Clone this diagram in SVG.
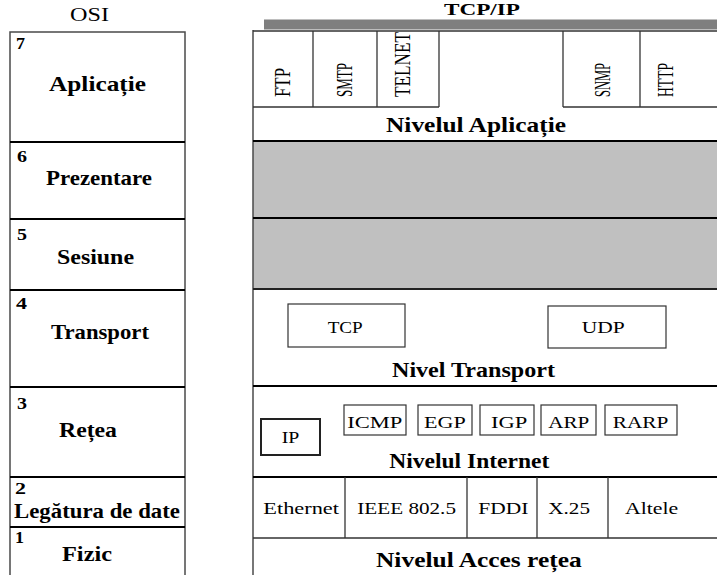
<svg xmlns="http://www.w3.org/2000/svg" width="717" height="575" viewBox="0 0 717 575" font-family="'Liberation Serif', 'DejaVu Serif', 'Times New Roman', serif">
<style>
text{fill:#000}
.t{font-size:18px}
.h{font-size:17px;font-weight:bold}
.n{font-size:17px;font-weight:bold}
.name{font-size:21px;font-weight:bold}
.p{font-size:17px}
.v{font-size:15px}
.frame{fill:none;stroke:#4a4a4a;stroke-width:1.5}
.sep{stroke:#000;stroke-width:2}
.thin{stroke:#333;stroke-width:1.3;fill:none}
.box{fill:#fff;stroke:#333;stroke-width:1.2}
</style>
<rect width="717" height="575" fill="#fff"/>

<g id="titles">
<text class="t" x="70" y="21" textLength="39" lengthAdjust="spacingAndGlyphs">OSI</text>
<text class="h" x="444" y="15" textLength="76" lengthAdjust="spacingAndGlyphs">TCP/IP</text>
</g>

<g id="osi">
<rect class="frame" x="10" y="32" width="175" height="560"/>
<line class="sep" x1="10" y1="142" x2="185" y2="142"/>
<line class="sep" x1="10" y1="219" x2="185" y2="219"/>
<line class="sep" x1="10" y1="290" x2="185" y2="290"/>
<line class="sep" x1="10" y1="387" x2="185" y2="387"/>
<line class="sep" x1="10" y1="477" x2="185" y2="477"/>
<line class="sep" x1="10" y1="527" x2="185" y2="527"/>
<g id="osi7"><text class="n" x="16" y="49" textLength="9" lengthAdjust="spacingAndGlyphs">7</text><text class="name" x="49" y="91" textLength="97" lengthAdjust="spacingAndGlyphs">Aplicație</text></g>
<g id="osi6"><text class="n" x="17" y="162" textLength="10" lengthAdjust="spacingAndGlyphs">6</text><text class="name" x="46" y="185" textLength="106" lengthAdjust="spacingAndGlyphs">Prezentare</text></g>
<g id="osi5"><text class="n" x="17" y="240" textLength="10" lengthAdjust="spacingAndGlyphs">5</text><text class="name" x="57" y="264" textLength="77" lengthAdjust="spacingAndGlyphs">Sesiune</text></g>
<g id="osi4"><text class="n" x="16" y="309" textLength="11" lengthAdjust="spacingAndGlyphs">4</text><text class="name" x="51" y="339" textLength="98" lengthAdjust="spacingAndGlyphs">Transport</text></g>
<g id="osi3"><text class="n" x="17" y="409" textLength="10" lengthAdjust="spacingAndGlyphs">3</text><text class="name" x="59" y="437" textLength="58" lengthAdjust="spacingAndGlyphs">Rețea</text></g>
<g id="osi2"><text class="n" x="15" y="494" textLength="11" lengthAdjust="spacingAndGlyphs">2</text><text class="name" x="14" y="518" textLength="166" lengthAdjust="spacingAndGlyphs">Legătura de date</text></g>
<g id="osi1"><text class="n" x="15" y="543" textLength="9" lengthAdjust="spacingAndGlyphs">1</text><text class="name" x="62" y="561" textLength="50" lengthAdjust="spacingAndGlyphs">Fizic</text></g>
</g>

<g id="tcpip">
<rect x="264" y="19.5" width="453" height="10" fill="#7f7f7f"/>
<rect x="253" y="141" width="464" height="148" fill="#c0c0c0"/>
<line x1="253" y1="30" x2="253" y2="575" stroke="#4a4a4a" stroke-width="1.5"/>
<line x1="253" y1="31" x2="717" y2="31" stroke="#333" stroke-width="1.5"/>

<g id="aplicatie">
<line class="thin" x1="313" y1="31" x2="313" y2="107"/>
<line class="thin" x1="377" y1="31" x2="377" y2="107"/>
<line class="thin" x1="439" y1="31" x2="439" y2="107"/>
<line class="thin" x1="563" y1="31" x2="563" y2="107"/>
<line class="thin" x1="640" y1="31" x2="640" y2="107"/>
<line class="thin" x1="253" y1="107" x2="439" y2="107"/>
<line class="thin" x1="563" y1="107" x2="717" y2="107"/>
<text class="v" transform="translate(290,97) scale(1.5,1) rotate(-90)" textLength="29" lengthAdjust="spacingAndGlyphs">FTP</text>
<text class="v" transform="translate(351.5,97) scale(1.5,1) rotate(-90)" textLength="34" lengthAdjust="spacingAndGlyphs">SMTP</text>
<text class="v" transform="translate(410,97) scale(1.5,1) rotate(-90)" textLength="65" lengthAdjust="spacingAndGlyphs">TELNET</text>
<text class="v" transform="translate(610,97) scale(1.5,1) rotate(-90)" textLength="34" lengthAdjust="spacingAndGlyphs">SNMP</text>
<text class="v" transform="translate(673,97) scale(1.5,1) rotate(-90)" textLength="34" lengthAdjust="spacingAndGlyphs">HTTP</text>
<text class="name" x="386" y="131.5" textLength="180" lengthAdjust="spacingAndGlyphs">Nivelul Aplicație</text>
</g>

<line class="sep" x1="253" y1="141" x2="717" y2="141"/>
<line class="sep" x1="253" y1="218" x2="717" y2="218"/>
<line x1="253" y1="289" x2="717" y2="289" stroke="#222" stroke-width="2"/>

<g id="transport">
<g id="tcp"><rect class="box" x="288" y="304" width="117" height="43"/><text class="p" x="327.7" y="333" textLength="35" lengthAdjust="spacingAndGlyphs">TCP</text></g>
<g id="udp"><rect class="box" x="548" y="306" width="118" height="42"/><text class="p" x="581.7" y="333" textLength="43" lengthAdjust="spacingAndGlyphs">UDP</text></g>
<text class="name" x="392" y="377" textLength="163" lengthAdjust="spacingAndGlyphs">Nivel Transport</text>
</g>
<line class="sep" x1="253" y1="386" x2="717" y2="386"/>

<g id="internet">
<g id="ip"><rect x="261" y="419" width="59" height="36" fill="#fff" stroke="#222" stroke-width="2"/><text class="p" x="281.7" y="443" textLength="17.6" lengthAdjust="spacingAndGlyphs">IP</text></g>
<g id="icmp"><rect class="box" x="344" y="405" width="62" height="30"/><text class="p" x="347.3" y="427.5" textLength="55" lengthAdjust="spacingAndGlyphs">ICMP</text></g>
<g id="egp"><rect class="box" x="418" y="405" width="54" height="30"/><text class="p" x="424" y="427.5" textLength="41.7" lengthAdjust="spacingAndGlyphs">EGP</text></g>
<g id="igp"><rect class="box" x="480" y="405" width="54" height="30"/><text class="p" x="491" y="427.5" textLength="36.3" lengthAdjust="spacingAndGlyphs">IGP</text></g>
<g id="arp"><rect class="box" x="541" y="405" width="55" height="30"/><text class="p" x="548.3" y="427.5" textLength="41" lengthAdjust="spacingAndGlyphs">ARP</text></g>
<g id="rarp"><rect class="box" x="605" y="405" width="72" height="30"/><text class="p" x="612.7" y="427.5" textLength="55.6" lengthAdjust="spacingAndGlyphs">RARP</text></g>
<text class="name" x="389.3" y="468" textLength="160" lengthAdjust="spacingAndGlyphs">Nivelul Internet</text>
</g>
<line class="sep" x1="253" y1="477" x2="717" y2="477"/>

<g id="acces">
<line class="thin" x1="345" y1="477" x2="345" y2="538"/>
<line class="thin" x1="467" y1="477" x2="467" y2="538"/>
<line class="thin" x1="537" y1="477" x2="537" y2="538"/>
<line class="thin" x1="608" y1="477" x2="608" y2="538"/>
<line class="thin" x1="253" y1="538" x2="717" y2="538"/>
<text class="p" x="263.3" y="514" textLength="75.7" lengthAdjust="spacingAndGlyphs">Ethernet</text>
<text class="p" x="357.3" y="514" textLength="98.7" lengthAdjust="spacingAndGlyphs">IEEE 802.5</text>
<text class="p" x="478.3" y="514" textLength="50" lengthAdjust="spacingAndGlyphs">FDDI</text>
<text class="p" x="548.3" y="514" textLength="41.7" lengthAdjust="spacingAndGlyphs">X.25</text>
<text class="p" x="625" y="514" textLength="53.3" lengthAdjust="spacingAndGlyphs">Altele</text>
<text class="name" x="376" y="567" textLength="205.7" lengthAdjust="spacingAndGlyphs">Nivelul Acces rețea</text>
</g>
</g>
<g id="connectors"/>
</svg>
